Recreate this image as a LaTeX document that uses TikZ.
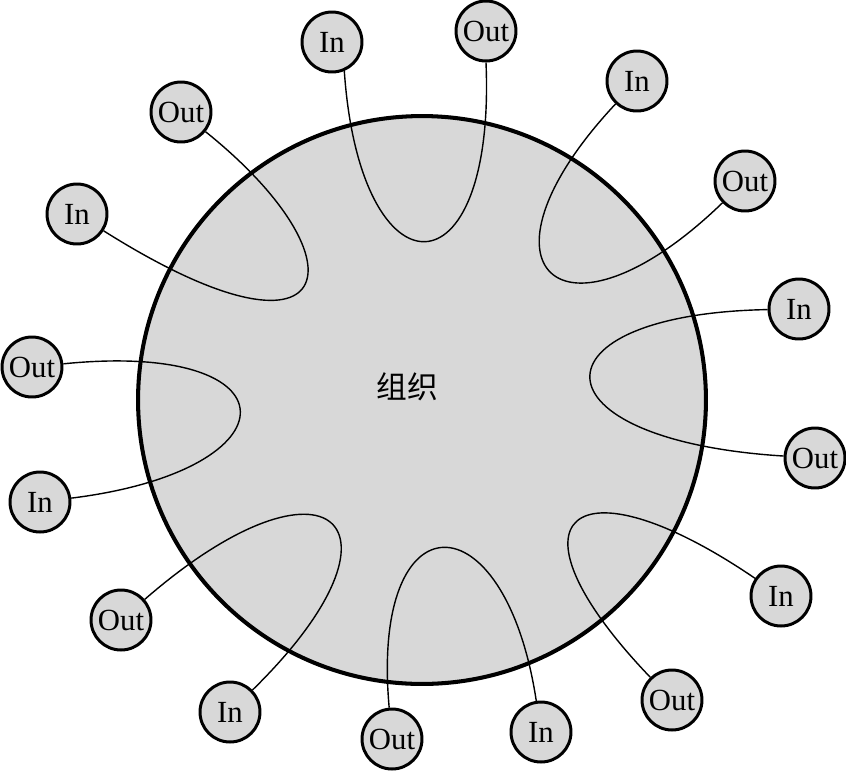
\documentclass[tikz,border=0pt]{standalone}
\usepackage{fontspec}
\setmainfont{Liberation Serif}
\newfontfamily\cjkfont{Noto Sans CJK SC}
\definecolor{orggray}{RGB}{216,216,216}
\begin{document}
\begin{tikzpicture}[x=0.02cm,y=-0.02cm,
  port/.style={circle,draw,line width=1.7pt,fill=orggray,minimum size=1.2cm,inner sep=0pt,font=\fontsize{17.5}{18}\selectfont},
  flow/.style={line width=0.8pt}]
  \useasboundingbox (0,0) rectangle (846,772);
  % organizacion
  \node[circle,draw,line width=2.3pt,fill=orggray,minimum size=11.36cm,inner sep=0pt] (org) at (422,400) {};
  \node[font=\cjkfont\fontsize{17.5}{18}\selectfont] (orglabel) at (407,387) {组织};
  % puertos (sentido horario desde arriba)
  \node[port] (in1)  at (332,42)  {In};
  \node[port] (out1) at (486,31)  {Out};
  \node[port] (in3)  at (637,81)  {In};
  \node[port] (out3) at (745,181) {Out};
  \node[port] (in4)  at (799,309) {In};
  \node[port] (out4) at (815,458) {Out};
  \node[port] (in5)  at (781,596) {In};
  \node[port] (out5) at (672,700) {Out};
  \node[port] (in6)  at (541,732) {In};
  \node[port] (out6) at (392,739) {Out};
  \node[port] (in7)  at (230,712) {In};
  \node[port] (out7) at (121,620) {Out};
  \node[port] (in8)  at (40,502)  {In};
  \node[port] (out8) at (32,367)  {Out};
  \node[port] (in2)  at (77,214)  {In};
  \node[port] (out2) at (181,112) {Out};
  % lazos In -> Out
  \draw[flow] (in1.-67) .. controls (360,300) and (496,300) .. (out1.south);
  \draw[flow] (out2) .. controls (368,262) and (340,380) .. (in2);
  \draw[flow] (in3) .. controls (462,268) and (562,358) .. (out3);
  \draw[flow] (in4) .. controls (528,314) and (528,440) .. (out4);
  \draw[flow] (in5) .. controls (574,455) and (496,516) .. (out5);
  \draw[flow] (in6) .. controls (505,495) and (370,495) .. (out6);
  \draw[flow] (out7) .. controls (328,440) and (422,524) .. (in7);
  \draw[flow] (out8) .. controls (298,340) and (298,470) .. (in8);
\end{tikzpicture}
\end{document}
